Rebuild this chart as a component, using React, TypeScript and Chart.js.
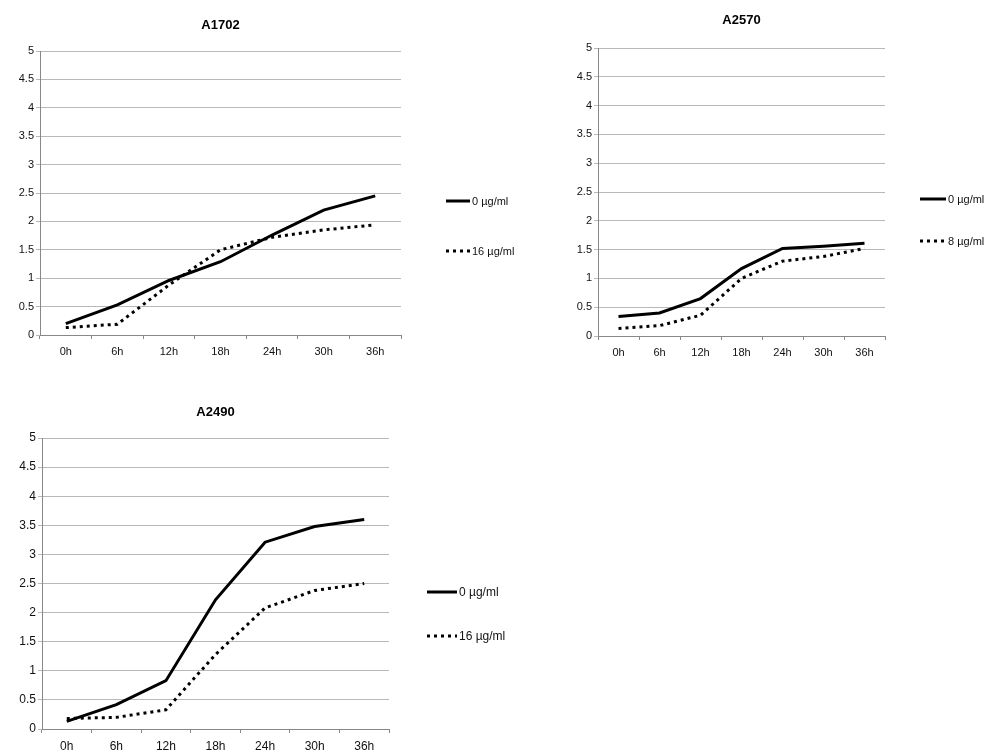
import React, { useEffect, useRef } from "react";
import { Chart, registerables } from "chart.js";

Chart.register(...registerables);

const hours = ["0h", "6h", "12h", "18h", "24h", "30h", "36h"];
const yTicks = [0, 0.5, 1, 1.5, 2, 2.5, 3, 3.5, 4, 4.5, 5];

const a1702Control = [0.2, 0.53, 0.96, 1.29, 1.76, 2.2, 2.45];
const a1702Treated = [0.13, 0.19, 0.88, 1.5, 1.72, 1.85, 1.94];
const a2570Control = [0.34, 0.4, 0.65, 1.17, 1.52, 1.56, 1.61];
const a2570Treated = [0.13, 0.18, 0.36, 1.0, 1.3, 1.38, 1.52];
const a2490Control = [0.13, 0.42, 0.83, 2.22, 3.21, 3.48, 3.6];
const a2490Treated = [0.18, 0.2, 0.33, 1.28, 2.08, 2.38, 2.5];

type Cfg = {
  title: string;
  control: number[];
  treated: number[];
  controlLabel: string;
  treatedLabel: string;
  left: number;
  top: number;
  width: number;
  height: number;
  yAxisWidth: number;
  xAxisHeight: number;
  padTop: number;
  padRight: number;
  padBottom: number;
  titleY: number;
  fontSize: number;
  legend: { x0: number; x1: number; y: number[] };
};

const charts: Cfg[] = [
  {
    title: "A1702",
    control: a1702Control,
    treated: a1702Treated,
    controlLabel: "0 µg/ml",
    treatedLabel: "16 µg/ml",
    left: 0,
    top: 0,
    width: 560,
    height: 370,
    yAxisWidth: 40,
    xAxisHeight: 30,
    padTop: 51,
    padRight: 159,
    padBottom: 5,
    titleY: 25,
    fontSize: 11,
    legend: { x0: 446, x1: 470, y: [201, 251] },
  },
  {
    title: "A2570",
    control: a2570Control,
    treated: a2570Treated,
    controlLabel: "0 µg/ml",
    treatedLabel: "8 µg/ml",
    left: 555,
    top: 0,
    width: 433,
    height: 370,
    yAxisWidth: 43,
    xAxisHeight: 30,
    padTop: 48,
    padRight: 103,
    padBottom: 4,
    titleY: 20,
    fontSize: 11,
    legend: { x0: 920 - 555, x1: 946 - 555, y: [199, 241] },
  },
  {
    title: "A2490",
    control: a2490Control,
    treated: a2490Treated,
    controlLabel: "0 µg/ml",
    treatedLabel: "16 µg/ml",
    left: 0,
    top: 390,
    width: 560,
    height: 361,
    yAxisWidth: 42,
    xAxisHeight: 21,
    padTop: 48,
    padRight: 171,
    padBottom: 1,
    titleY: 22,
    fontSize: 12,
    legend: { x0: 427, x1: 457, y: [202, 246] },
  },
];

const FONT = "'Liberation Sans', Arial, sans-serif";

function LineChart({ cfg }: { cfg: Cfg }) {
  const ref = useRef<HTMLCanvasElement | null>(null);
  useEffect(() => {
    if (!ref.current) return;
    const overlay = {
      id: "overlay",
      afterDraw(chart: any) {
        const ctx = chart.ctx;
        const area = chart.chartArea;
        ctx.save();
        ctx.fillStyle = "#000";
        ctx.font = `bold 13px ${FONT}`;
        ctx.textAlign = "center";
        ctx.textBaseline = "middle";
        ctx.fillText(cfg.title, (area.left + area.right) / 2, cfg.titleY);
        chart.data.datasets.forEach((ds: any, i: number) => {
          const y = cfg.legend.y[i];
          ctx.beginPath();
          ctx.strokeStyle = "#000";
          ctx.lineWidth = 3;
          ctx.setLineDash(ds.borderDash || []);
          ctx.moveTo(cfg.legend.x0, y);
          ctx.lineTo(cfg.legend.x1, y);
          ctx.stroke();
          ctx.setLineDash([]);
          ctx.font = `${cfg.fontSize}px ${FONT}`;
          ctx.textAlign = "left";
          ctx.fillStyle = "#111";
          ctx.fillText(ds.label, cfg.legend.x1 + 2, y + 1);
        });
        ctx.restore();
      },
    };
    const chart = new Chart(ref.current, {
      type: "line",
      data: {
        labels: hours,
        datasets: [
          {
            label: cfg.controlLabel,
            data: cfg.control,
            borderColor: "#000",
            borderWidth: 3,
            pointRadius: 0,
            tension: 0,
            fill: false,
          },
          {
            label: cfg.treatedLabel,
            data: cfg.treated,
            borderColor: "#000",
            borderWidth: 3,
            borderDash: [3, 4],
            borderCapStyle: "butt",
            pointRadius: 0,
            tension: 0,
            fill: false,
          },
        ],
      },
      options: {
        animation: false,
        responsive: false,
        maintainAspectRatio: false,
        layout: {
          padding: { top: cfg.padTop, right: cfg.padRight, bottom: cfg.padBottom, left: 0 },
        },
        plugins: {
          legend: { display: false },
          title: { display: false },
          tooltip: { enabled: false },
        },
        scales: {
          x: {
            type: "category",
            offset: true,
            grid: {
              offset: true,
              drawOnChartArea: false,
              drawTicks: true,
              tickLength: 4,
              color: "#888",
            },
            border: { display: true, color: "#888", width: 1 },
            ticks: {
              color: "#111",
              font: { family: FONT, size: cfg.fontSize },
              padding: 6,
              maxRotation: 0,
            },
            afterFit: (axis: any) => {
              axis.height = cfg.xAxisHeight;
            },
          },
          y: {
            type: "linear",
            min: 0,
            max: 5,
            afterBuildTicks: (axis: any) => {
              axis.ticks = yTicks.map((v) => ({ value: v }));
            },
            grid: {
              color: "#b8b8b8",
              lineWidth: 1,
              drawTicks: true,
              tickLength: 4,
            },
            border: { display: true, color: "#888", width: 1 },
            ticks: {
              color: "#111",
              font: { family: FONT, size: cfg.fontSize },
              padding: 2,
              callback: (v: any) => String(v),
            },
            afterFit: (axis: any) => {
              axis.width = cfg.yAxisWidth;
            },
          },
        },
      },
      plugins: [overlay],
    } as any);
    return () => chart.destroy();
  }, [cfg]);
  return (
    <canvas
      ref={ref}
      width={cfg.width}
      height={cfg.height}
      style={{
        position: "absolute",
        left: cfg.left,
        top: cfg.top,
        width: cfg.width,
        height: cfg.height,
      }}
    />
  );
}

export default function App() {
  return (
    <div
      style={{
        position: "absolute",
        left: 0,
        top: 0,
        width: 988,
        height: 751,
        background: "#fff",
        overflow: "hidden",
      }}
    >
      {charts.map((c) => (
        <LineChart key={c.title} cfg={c} />
      ))}
    </div>
  );
}
